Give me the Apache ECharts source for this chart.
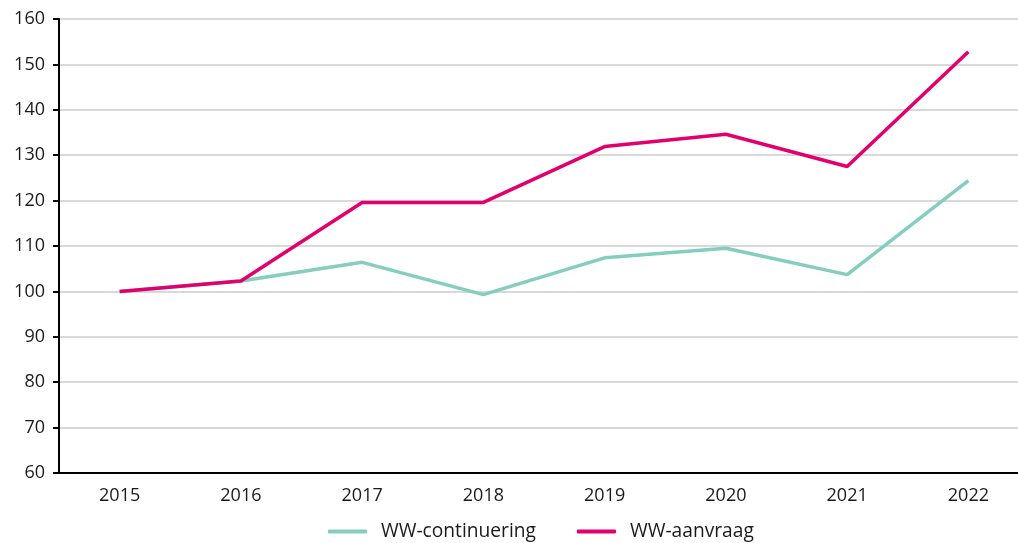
<!DOCTYPE html>
<html>
<head>
<meta charset="utf-8">
<script src="https://cdn.jsdelivr.net/npm/echarts@6/dist/echarts.min.js"></script>
<style>
    html, body { margin: 0; padding: 0; background: #fff; overflow: hidden; }
    /* plot area runs a little past the right edge of the window, as in the original */
    #chart { width: 1029px; height: 543px; }
</style>
</head>
<body>
<div id="chart"></div>
<script>
// jaren en indexcijfers (2015 = 100)
const years = ["2015", "2016", "2017", "2018", "2019", "2020", "2021", "2022"];
const continuering = [100, 102.3, 106.4, 99.3, 107.4, 109.5, 103.7, 124.4];
const aanvraag = [100, 102.3, 119.6, 119.6, 131.9, 134.6, 127.5, 152.8];

const chart = echarts.init(document.getElementById("chart"));
const font = "Open Sans";

chart.setOption({
    animation: false,
    grid: {
        left: 59,
        right: 0,
        top: 19,
        bottom: 70,
    },
    legend: {
        top: 522,
        left: 328,
        padding: 0,
        itemWidth: 39,
        itemHeight: 4,
        itemGap: 41,
        icon: "roundRect",
        textStyle: { fontFamily: font, fontSize: 19.2, color: "#1a1a1a", padding: [0, 0, 0, 9] },
        data: ["WW-continuering", "WW-aanvraag"],
    },
    xAxis: {
        type: "category",
        data: years,
        boundaryGap: true,
        axisLine: { lineStyle: { color: "#000", width: 2 } },
        axisTick: { length: 7, lineStyle: { color: "#000", width: 2 } },
        axisLabel: { fontFamily: font, fontSize: 18, color: "#1a1a1a", margin: 14 },
    },
    yAxis: {
        type: "value",
        min: 60,
        max: 160,
        interval: 10,
        axisLine: { show: true, lineStyle: { color: "#000", width: 2 } },
        axisTick: { show: true, length: 6, lineStyle: { color: "#000", width: 2 } },
        axisLabel: { fontFamily: font, fontSize: 18, color: "#1a1a1a", margin: 14 },
        splitLine: { lineStyle: { color: "#d9d9d9", width: 2 } },
    },
    series: [
        {
            name: "WW-continuering",
            type: "line",
            data: continuering,
            symbol: "none",
            color: "#84cdbf",
            lineStyle: { width: 3.5, color: "#84cdbf" },
        },
        {
            name: "WW-aanvraag",
            type: "line",
            data: aanvraag,
            symbol: "none",
            color: "#e2006e",
            lineStyle: { width: 3.5, color: "#e2006e" },
        },
    ],
});
</script>
</body>
</html>
